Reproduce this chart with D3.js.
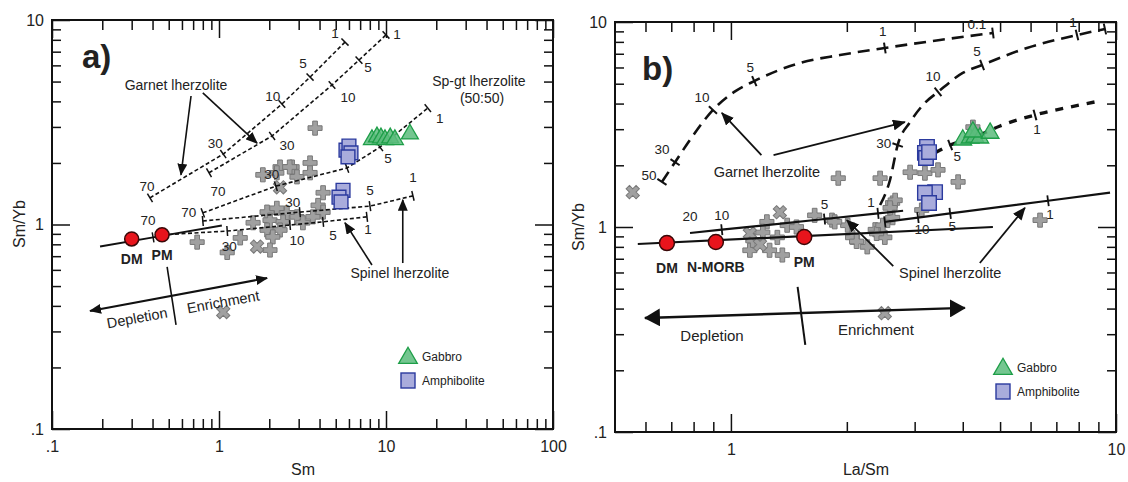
<!DOCTYPE html>
<html>
<head>
<meta charset="utf-8">
<script src="https://cdn.jsdelivr.net/npm/d3@7"></script>
<style>
  body { margin: 0; background: #fff; }
  svg { font-family: "Liberation Sans", Arial, sans-serif; }
  .tick line { stroke: #111; stroke-width: 1.5; }
  .num { font-size: 13.5px; fill: #222; text-anchor: middle; dominant-baseline: central; }
  .note { font-size: 14px; fill: #222; text-anchor: middle; dominant-baseline: central; }
  .title { font-size: 16px; fill: #222; text-anchor: middle; }
  .src { font-size: 14px; font-weight: bold; fill: #222; text-anchor: middle; }
  .leg { font-size: 12px; fill: #222; dominant-baseline: central; }
</style>
</head>
<body>
<svg id="chart" width="1128" height="482"></svg>
<script>
// ---- axes
var aXMajor = [0.1, 1, 10, 100], aXLabels = [".1", "1", "10", "100"];
var bXMajor = [1, 10], bXLabels = ["1", "10"];
var yMajor = [0.1, 1, 10], yLabels = [".1", "1", "10"];

// ---- panel a: Sm vs Sm/Yb
var aCross = [[2.32,1.91],[2.74,1.91],[3.51,2.0],[1.83,1.75],[2.93,1.71],[3.51,1.79],[2.22,1.79],[2.65,1.91],
  [4.2,1.43],[3.92,1.24],[1.94,1.15],[2.22,1.20],[2.55,1.14],[2.93,1.09],[2.02,1.05],[2.42,1.03],[3.18,1.02],
  [1.6,1.02],[1.94,0.94],[2.32,0.94],[2.1,0.87],[1.34,0.86],[0.74,0.82],[1.12,0.73],[2.02,0.75],[4.2,1.15],
  [3.65,1.09],[3.76,2.96]];
var aX = [[2.32,1.52],[1.69,0.78],[1.06,0.373]];
var aAmph = [[5.76,2.31],[6.0,2.42],[6.17,2.24],[5.92,2.14],[5.53,1.47],[5.23,1.36],[5.38,1.29]];
var aGabbro = [[8.24,2.6],[8.83,2.68],[9.33,2.65],[9.86,2.6],[10.6,2.65],[11.3,2.6],[13.9,2.77]];
var aSources = [["DM",0.30,0.85],["PM",0.456,0.89]];

// melting curves: [x, y, tick label] (null = no tick, "" = tick without label)
var aGarnet1 = [[0.386,1.35,"70"],[1.06,2.21,"30"],[2.38,3.88,"10"],[3.51,5.26,"5"],[5.68,7.8,"1"]];
var aGarnet2 = [[0.871,1.79,"70"],[2.08,2.71,"30"],[4.75,4.81,"10"],[6.89,6.37,"5"],[10.0,8.45,"1"]];
var aSpGt    = [[0.80,1.14,"70"],[2.19,1.54,"30"],[5.84,1.89,""],[9.2,2.39,"5"],[17.8,3.71,"1"]];
var aSpinel1 = [[0.80,1.04,""],[3.05,1.15,"30"],[8.02,1.23,"5"],[14.5,1.38,"1"]];
var aSpinel2 = [[0.456,0.89,null],[1.12,0.929,"30"],[2.66,0.994,"10"],[4.2,1.03,"5"],[7.69,1.09,"1"]];
var aMantle  = [[0.194,0.78,null],[0.403,0.865,"70"],[1.04,0.99,null]];

// ---- panel b: La/Sm vs Sm/Yb
var bCross = [[1.90,1.73],[2.44,1.73],[1.65,1.14],[1.83,1.08],[2.01,1.02],[2.07,0.89],[2.37,0.97],[2.51,0.89],
  [2.26,0.80],[2.63,1.31],[2.63,1.11],[1.24,1.06],[1.40,1.02],[1.48,1.0],[1.21,0.94],[1.32,0.89],[1.12,0.77],
  [1.26,0.77],[1.36,0.73],[1.14,0.86],[2.92,1.85],[3.19,1.83],[3.45,1.90],[3.89,1.66],[2.67,1.35],[2.59,1.24],
  [3.13,1.21],[6.35,1.08],[2.12,0.85],[2.39,0.93],[2.48,1.02],[1.86,1.06],[4.25,3.07]];
var bX = [[0.556,1.48],[1.34,1.18],[1.12,0.93],[1.19,0.82],[2.51,0.38]];
var bAmph = [[3.23,2.46],[3.19,2.30],[3.21,2.17],[3.27,2.32],[3.39,1.48],[3.19,1.47],[3.27,1.31]];
var bGabbro = [[4.0,2.66],[4.18,2.72],[4.30,2.75],[4.43,2.72],[4.71,2.87],[4.25,2.91]];
var bSources = [["DM",0.682,0.835],["N-MORB",0.914,0.845],["PM",1.55,0.894]];

var bGarnet1 = [[0.662,1.66,"50"],[0.716,2.07,"30"],[0.783,2.66,null],[0.898,3.72,"10"],[1.02,4.56,null],
  [1.15,5.15,"5"],[1.51,6.31,null],[1.92,6.9,null],[2.51,7.47,"1"],[3.49,8.17,null],[4.79,8.84,"0.1"]];
var bGarnet2 = [[2.44,1.28,null],[2.59,1.70,null],[2.71,2.51,"30"],[2.92,3.25,null],[3.19,4.03,null],
  [3.45,4.56,"10"],[4.0,5.64,null],[4.49,6.17,"5"],[5.87,7.47,null],[7.92,8.64,"1"],[9.36,9.24,""]];
var bSpGt    = [[3.39,2.30,null],[3.71,2.51,"5"],[4.30,2.75,null],[5.0,3.11,null],[6.16,3.52,"1"],[7.6,3.85,null],[9.09,4.12,null]];
var bMantle  = [[0.573,0.826,null],[4.79,1.0,null]];
var bSpinel1 = [[0.783,0.935,"20"],[0.947,0.970,"10"],[1.75,1.094,"5"],[2.41,1.166,"1"],[2.80,1.20,null]];
var bSpinel2 = [[2.51,1.06,""],[3.06,1.112,"10"],[3.71,1.165,"5"],[6.66,1.343,"1"],[9.65,1.47,null]];

var svg = d3.select("#chart");
var xA = d3.scaleLog().domain([0.1, 100]).range([52, 553]);
var yA = d3.scaleLog().domain([0.1, 10]).range([429, 20]);
var xB = d3.scaleLog().domain([0.5, 10]).range([615, 1116]);
var yB = d3.scaleLog().domain([0.1, 10]).range([432, 22]);

var defs = svg.append("defs");
function marker(id, len, wid) {
  defs.append("marker").attr("id", id)
    .attr("viewBox", "0 " + (-wid/2) + " " + len + " " + wid)
    .attr("refX", len - 1).attr("refY", 0)
    .attr("markerWidth", len).attr("markerHeight", wid)
    .attr("markerUnits", "userSpaceOnUse").attr("orient", "auto-start-reverse")
    .append("path").attr("d", "M0," + (-wid/2) + "L" + len + ",0L0," + (wid/2) + "Z").attr("fill", "#111");
}
marker("headA", 12, 10);
marker("headB", 13, 11);
marker("headBig", 16, 18);

function minors(dom) {
  var out = [];
  for (var e = Math.floor(Math.log10(dom[0])); e < Math.log10(dom[1]); e++)
    for (var k = 2; k <= 9; k++) {
      var v = k * Math.pow(10, e);
      if (v > dom[0] * 1.0001 && v < dom[1]) out.push(+v.toPrecision(3));
    }
  return out;
}

function frame(x, y, xMaj, xLab) {
  var x0 = x.range()[0], x1 = x.range()[1], y0 = y.range()[0], y1 = y.range()[1];
  var g = svg.append("g");
  var fx = function(d) { return xLab[xMaj.indexOf(d)]; };
  var fy = function(d) { return yLabels[yMajor.indexOf(d)]; };
  var xm = minors(x.domain()), ym = minors(y.domain());
  g.append("g").attr("transform", "translate(0," + y0 + ")").call(d3.axisBottom(x).tickValues(xm).tickSize(-10).tickFormat(""));
  g.append("g").attr("transform", "translate(0," + y0 + ")").call(d3.axisBottom(x).tickValues(xMaj).tickSize(-18).tickPadding(12).tickFormat(fx));
  g.append("g").attr("transform", "translate(0," + y1 + ")").call(d3.axisTop(x).tickValues(xm).tickSize(-10).tickFormat(""));
  g.append("g").attr("transform", "translate(0," + y1 + ")").call(d3.axisTop(x).tickValues(xMaj).tickSize(-18).tickFormat(""));
  g.append("g").attr("transform", "translate(" + x0 + ",0)").call(d3.axisLeft(y).tickValues(ym).tickSize(-9).tickFormat(""));
  g.append("g").attr("transform", "translate(" + x0 + ",0)").call(d3.axisLeft(y).tickValues(yMajor).tickSize(-18).tickPadding(8).tickFormat(fy));
  g.append("g").attr("transform", "translate(" + x1 + ",0)").call(d3.axisRight(y).tickValues(ym).tickSize(-9).tickFormat(""));
  g.append("g").attr("transform", "translate(" + x1 + ",0)").call(d3.axisRight(y).tickValues(yMajor).tickSize(-18).tickFormat(""));
  g.selectAll(".domain").remove();
  g.selectAll("g").attr("font-family", "Liberation Sans, Arial, sans-serif").attr("font-size", 16);
  g.selectAll(".tick text").attr("fill", "#222");
  g.append("rect").attr("x", x0).attr("y", y1).attr("width", x1 - x0).attr("height", y0 - y1)
    .attr("fill", "none").attr("stroke", "#111").attr("stroke-width", 2);
  return g;
}

function drawSymbols(x, y, data, type, size, fill, stroke, sw, rot) {
  svg.append("g").selectAll("path").data(data).enter().append("path")
    .attr("d", d3.symbol().type(type).size(size))
    .attr("transform", function(d) { return "translate(" + x(d[0]) + "," + y(d[1]) + ")" + (rot ? " rotate(45)" : ""); })
    .attr("fill", fill).attr("stroke", stroke).attr("stroke-width", sw);
}

function drawCurve(x, y, pts, offs, st) {
  var g = svg.append("g");
  var line = d3.line().x(function(d) { return x(d[0]); }).y(function(d) { return y(d[1]); })
    .curve(st.curve || d3.curveLinear);
  g.append("path").attr("d", line(pts)).attr("fill", "none").attr("stroke", "#111")
    .attr("stroke-width", st.width).attr("stroke-dasharray", st.dash || null);
  pts.forEach(function(d, i) {
    if (d[2] === null) return;
    var px = x(d[0]), py = y(d[1]);
    var a = pts[Math.max(0, i - 1)], b = pts[Math.min(pts.length - 1, i + 1)];
    var dx = x(b[0]) - x(a[0]), dy = y(b[1]) - y(a[1]);
    var len = Math.sqrt(dx * dx + dy * dy);
    var nx = -dy / len * st.tick, ny = dx / len * st.tick;
    var o = offs[i] || [0, -12];
    if (!o[2]) g.append("line").attr("x1", px - nx).attr("y1", py - ny).attr("x2", px + nx).attr("y2", py + ny)
      .attr("stroke", "#111").attr("stroke-width", st.tickW);
    if (d[2]) g.append("text").attr("class", "num").attr("x", px + o[0]).attr("y", py + o[1]).text(d[2]);
  });
}

function arrow(x, y, p, q, w, head, both) {
  svg.append("line").attr("x1", x(p[0])).attr("y1", y(p[1])).attr("x2", x(q[0])).attr("y2", y(q[1]))
    .attr("stroke", "#111").attr("stroke-width", w)
    .attr("marker-end", "url(#" + head + ")")
    .attr("marker-start", both ? "url(#" + head + ")" : null);
}

function note(x, y, t, vx, vy, size, rot) {
  var px = x(vx), py = y(vy);
  svg.append("text").attr("class", "note").attr("transform", "translate(" + px + "," + py + ")" + (rot ? " rotate(" + rot + ")" : ""))
    .style("font-size", size + "px").text(t);
}

var grayFill = "#a0a0a0", grayLine = "#787878";

// ================= panel a =================
frame(xA, yA, aXMajor, aXLabels);
drawSymbols(xA, yA, aCross, d3.symbolCross, 110, grayFill, grayLine, 1, false);
drawSymbols(xA, yA, aX, d3.symbolCross, 110, grayFill, grayLine, 1, true);

var stA = { width: 1.6, dash: "4,2.5", tick: 5, tickW: 1.5 };
drawCurve(xA, yA, aGarnet1, [[-3,-11],[-8,-11],[-9,-8],[-7,-14],[-10,-9]], stA);
drawCurve(xA, yA, aGarnet2, [[9,19],[15,10],[16,12],[9,7],[11,0]], stA);
drawCurve(xA, yA, aSpGt, [[-14,0],[-4,-12],null,[8,11],[12,10]], stA);
drawCurve(xA, yA, aSpinel1, [null,[-7,-10],[0,-16],[0,-18]], stA);
drawCurve(xA, yA, aSpinel2, [null,[2,15],[7,15],[10,14],[1,13]], stA);
drawCurve(xA, yA, aMantle, [null,[-5,-17],null], { width: 2, tick: 5, tickW: 1.5 });

arrow(xA, yA, [0.68,4.25], [0.592,1.75], 1.6, "headA");
arrow(xA, yA, [0.80,4.40], [1.69,2.50], 1.6, "headA");
arrow(xA, yA, [8.24,0.634], [5.68,1.02], 1.6, "headA");
arrow(xA, yA, [12.6,0.648], [12.6,1.32], 1.6, "headA");
arrow(xA, yA, [0.169,0.378], [1.94,0.547], 2, "headA", true);
svg.append("line").attr("x1", xA(0.489)).attr("y1", yA(0.62)).attr("x2", xA(0.553)).attr("y2", yA(0.323))
  .attr("stroke", "#111").attr("stroke-width", 1.6);

var angA = Math.atan2(yA(0.547) - yA(0.378), xA(1.94) - xA(0.169)) * 180 / Math.PI;
note(xA, yA, "Garnet lherzolite", 0.553, 4.81, 14);
note(xA, yA, "Sp-gt lherzolite", 36.0, 5.03, 14);
note(xA, yA, "(50:50)", 37.6, 4.15, 14);
note(xA, yA, "Spinel lherzolite", 12.1, 0.579, 14);
note(xA, yA, "Depletion", 0.323, 0.349, 14.5, angA);
note(xA, yA, "Enrichment", 1.06, 0.418, 14.5, angA);

drawSymbols(xA, yA, aAmph, d3.symbolSquare, 190, "#a9acdc", "#2b3a9e", 1.4, false);
drawSymbols(xA, yA, aGabbro, d3.symbolTriangle, 125, "rgba(92,188,124,0.85)", "#1e9e48", 1.3, false);

svg.append("g").selectAll("circle").data(aSources).enter().append("circle")
  .attr("cx", function(d) { return xA(d[1]); }).attr("cy", function(d) { return yA(d[2]); }).attr("r", 7)
  .attr("fill", "#e8141c").attr("stroke", "#3a0808").attr("stroke-width", 1.5);
svg.append("g").selectAll("text").data(aSources).enter().append("text").attr("class", "src")
  .attr("x", function(d) { return xA(d[1]); }).attr("y", function(d) { return yA(d[2]) + 25; }).text(function(d) { return d[0]; });

svg.append("text").attr("x", 82).attr("y", 68).style("font-size", "33px").style("font-weight", "bold").attr("fill", "#222").text("a)");
svg.append("text").attr("class", "title").attr("transform", "translate(25,224) rotate(-90)").text("Sm/Yb");
svg.append("text").attr("class", "title").attr("x", 303).attr("y", 475).text("Sm");

function legend(x0, y0) {
  var g = svg.append("g").attr("transform", "translate(" + x0 + "," + y0 + ")");
  g.append("path").attr("d", d3.symbol().type(d3.symbolTriangle).size(150)).attr("transform", "translate(0,1)")
    .attr("fill", "rgba(92,188,124,0.85)").attr("stroke", "#1e9e48").attr("stroke-width", 1.3);
  g.append("text").attr("class", "leg").attr("x", 14).attr("y", 0).text("Gabbro");
  g.append("rect").attr("x", -7).attr("y", 16).attr("width", 14).attr("height", 15)
    .attr("fill", "#a9acdc").attr("stroke", "#2b3a9e").attr("stroke-width", 1.4);
  g.append("text").attr("class", "leg").attr("x", 14).attr("y", 24).text("Amphibolite");
}
legend(408, 357);

// ================= panel b =================
frame(xB, yB, bXMajor, bXLabels);
drawSymbols(xB, yB, bCross, d3.symbolCross, 110, grayFill, grayLine, 1, false);
drawSymbols(xB, yB, bX, d3.symbolCross, 110, grayFill, grayLine, 1, true);

var stB = { width: 2.6, dash: "12,7", tick: 5.5, tickW: 2, curve: d3.curveMonotoneX };
drawCurve(xB, yB, bGarnet1, [[-13,-6],[-13,-13],null,[-11,-13],null,[-4,-14],null,null,[-2,-16],null,[-16,-8]], stB);
drawCurve(xB, yB, bGarnet2, [null,null,[-14,-2],null,null,[-5,-15],null,[-5,-13],null,[-4,-13],null], stB);
drawCurve(xB, yB, bSpGt, [null,[7,11],null,null,[2,15],null,null],
  { width: 3.4, dash: "8,8", tick: 5.5, tickW: 2, curve: d3.curveMonotoneX });
var stL = { width: 2.2, tick: 5.5, tickW: 1.8 };
drawCurve(xB, yB, bMantle, [], stL);
drawCurve(xB, yB, bSpinel1, [[0,-16,true],[0,-14],[0,-15],[-7,-11],null], stL);
drawCurve(xB, yB, bSpinel2, [null,[4,12],[2,13],[2,14],null], stL);

arrow(xB, yB, [1.20,2.24], [0.947,3.60], 1.8, "headB");
arrow(xB, yB, [1.29,2.24], [2.83,3.25], 1.8, "headB");
arrow(xB, yB, [2.64,0.645], [2.0,1.08], 1.8, "headB");
arrow(xB, yB, [4.43,0.667], [5.80,1.24], 1.8, "headB");
arrow(xB, yB, [0.598,0.36], [4.05,0.403], 2.4, "headBig", true);
svg.append("line").attr("x1", xB(1.49)).attr("y1", yB(0.51)).attr("x2", xB(1.56)).attr("y2", yB(0.266))
  .attr("stroke", "#111").attr("stroke-width", 2);

note(xB, yB, "Garnet lherzolite", 1.24, 1.85, 14.5);
note(xB, yB, "Spinel lherzolite", 3.71, 0.597, 14.5);
note(xB, yB, "Depletion", 0.893, 0.297, 15);
note(xB, yB, "Enrichment", 2.38, 0.315, 15);

drawSymbols(xB, yB, bAmph, d3.symbolSquare, 210, "#a9acdc", "#2b3a9e", 1.4, false);
drawSymbols(xB, yB, bGabbro, d3.symbolTriangle, 135, "rgba(92,188,124,0.85)", "#1e9e48", 1.3, false);

svg.append("g").selectAll("circle").data(bSources).enter().append("circle")
  .attr("cx", function(d) { return xB(d[1]); }).attr("cy", function(d) { return yB(d[2]); }).attr("r", 7.5)
  .attr("fill", "#e8141c").attr("stroke", "#3a0808").attr("stroke-width", 1.5);
svg.append("g").selectAll("text").data(bSources).enter().append("text").attr("class", "src")
  .attr("x", function(d) { return xB(d[1]); }).attr("y", function(d) { return yB(d[2]) + 30; })
  .text(function(d) { return d[0]; });

svg.append("text").attr("x", 642).attr("y", 80).style("font-size", "33px").style("font-weight", "bold").attr("fill", "#222").text("b)");
svg.append("text").attr("class", "title").attr("transform", "translate(584,227) rotate(-90)").text("Sm/Yb");
svg.append("text").attr("class", "title").attr("x", 866).attr("y", 475).text("La/Sm");

legend(1003, 368);
</script>
</body>
</html>
